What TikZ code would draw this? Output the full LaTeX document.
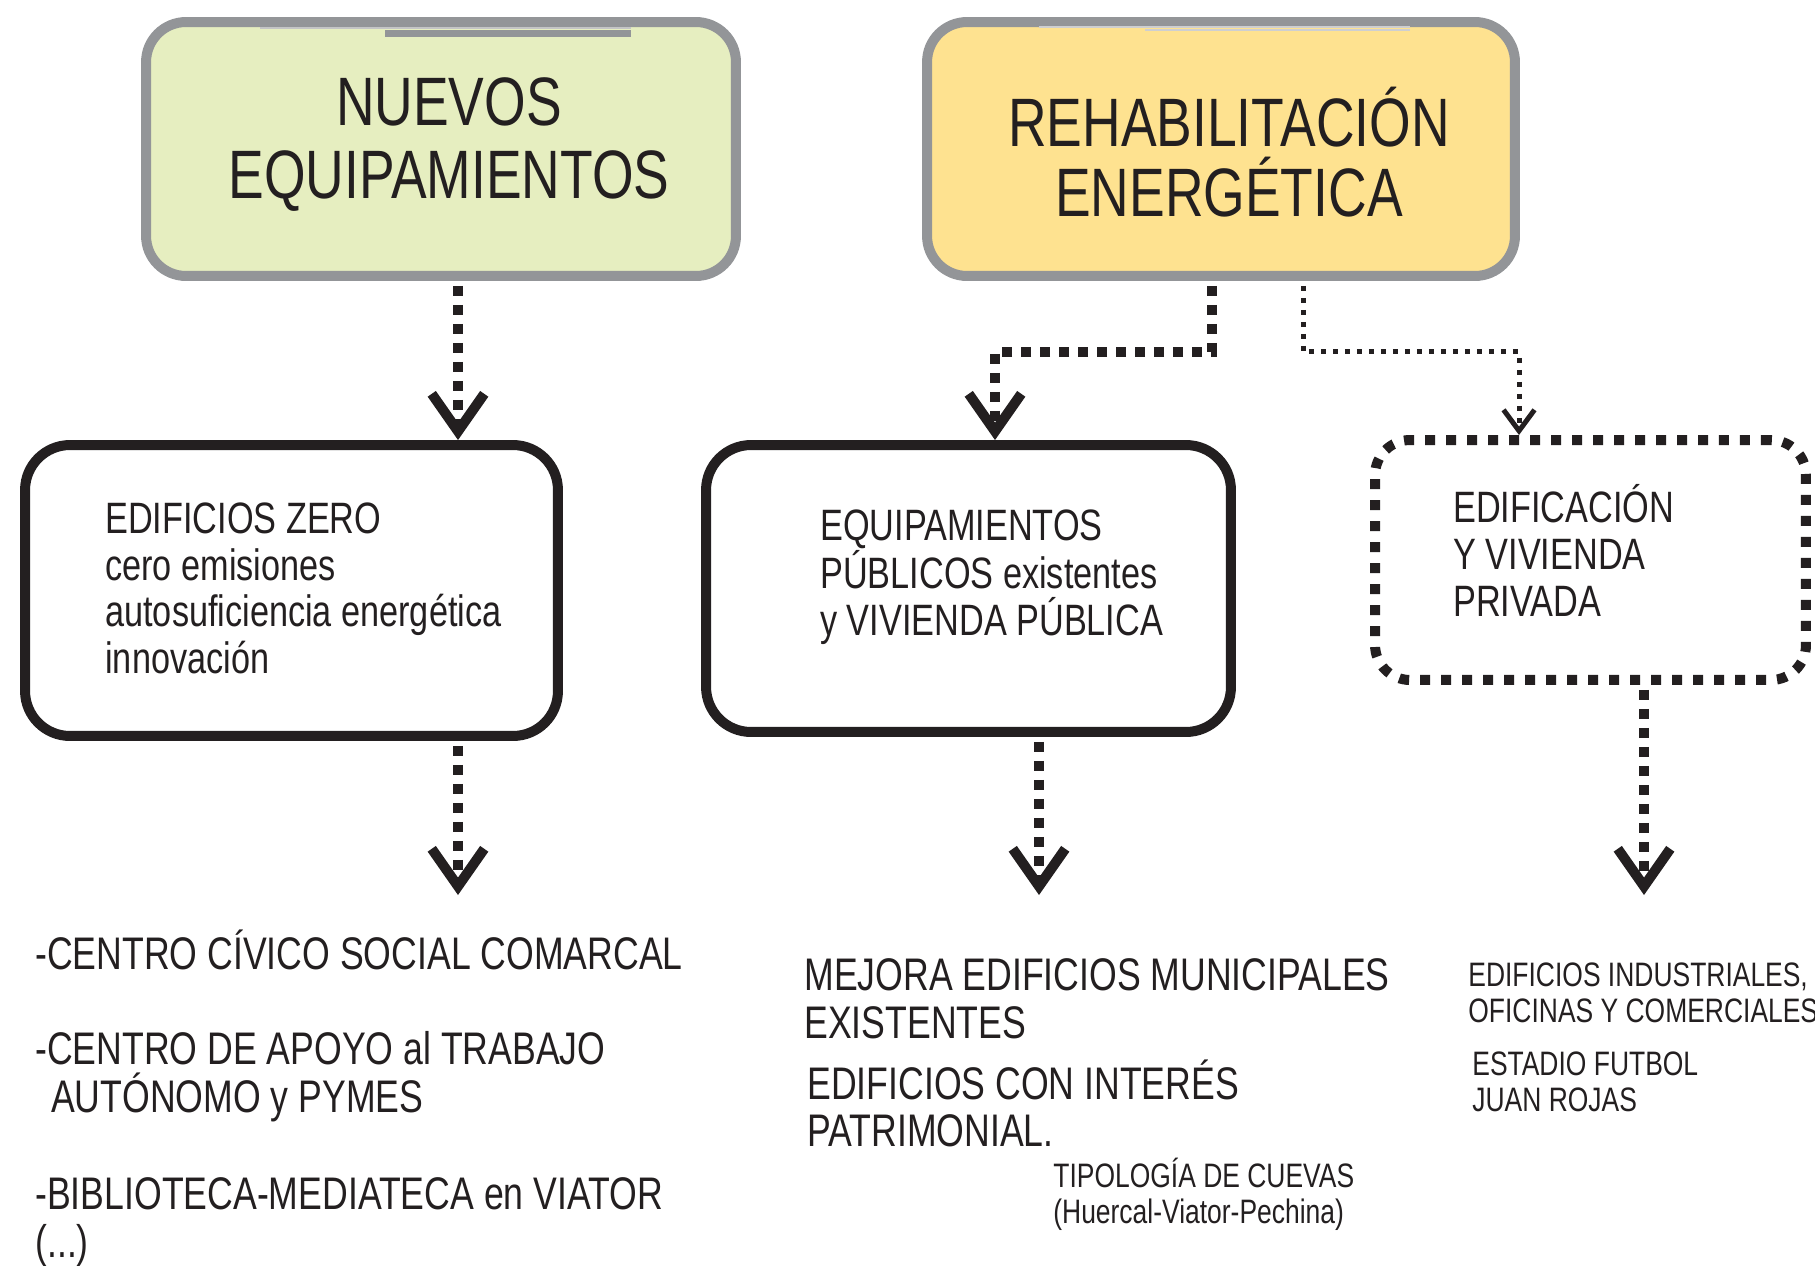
\documentclass[tikz,border=0pt]{standalone}
\usepackage{fontspec}
\setmainfont{Liberation Sans}[FakeStretch=0.78]
\usepackage{tikz}
\usetikzlibrary{calc,arrows.meta}
\definecolor{verdeclaro}{RGB}{230,238,192}
\definecolor{amarillo}{RGB}{254,226,144}
\definecolor{grisborde}{RGB}{147,149,152}
\definecolor{tinta}{RGB}{35,31,32}

\begin{document}
\begin{tikzpicture}
[x=0.02cm,y=-0.02cm,
 cabecera/.style={draw=grisborde,line width=0.2cm,rounded corners=0.8cm,inner sep=0pt},
 caja/.style={draw=tinta,line width=0.2cm,rounded corners=0.9cm,inner sep=0pt},
 punteada/.style={draw=tinta,line width=0.2cm,dash pattern=on 0.2cm off 0.22cm,rounded corners=0.7cm,inner sep=0pt},
 punta/.style={-{Straight Barb[length=0.75cm,width=1.05cm,line cap=butt,line join=miter]}},
 flecha/.style={draw=tinta,line width=0.2cm,dash pattern=on 0.2cm off 0.18cm,punta},
 flechita/.style={draw=tinta,line width=0.1cm,dash pattern=on 0.1cm off 0.14cm,
   -{Straight Barb[length=0.42cm,width=0.62cm,line cap=butt,line join=miter]}},
 titulo/.style={font=\fontsize{39}{41}\selectfont,align=center,anchor=base,inner sep=0pt,text=tinta},
 texto/.style={font=\fontsize{25}{26.4}\selectfont,align=left,anchor=base west,inner sep=0pt,text=tinta},
 lista/.style={font=\fontsize{26}{27}\selectfont,align=left,anchor=base west,inner sep=0pt,text=tinta},
 nota/.style={font=\fontsize{19.3}{20.2}\selectfont,align=left,anchor=base west,inner sep=0pt,text=tinta}]

\useasboundingbox (0,0) rectangle (1815,1265);

% the boxes
\node[cabecera,fill=verdeclaro,minimum width=11.8cm,minimum height=5.08cm] (nuevos) at (441,149) {};
\node[cabecera,fill=amarillo,minimum width=11.76cm,minimum height=5.08cm] (rehab) at (1221,149) {};
\node[caja,minimum width=10.66cm,minimum height=5.82cm] (zero) at (291.5,590.5) {};
\node[caja,minimum width=10.5cm,minimum height=5.74cm] (publicos) at (968.5,588.5) {};
\node[punteada,minimum width=8.62cm,minimum height=4.8cm] (privada) at (1590.5,560) {};

% the little grey lines on top
\draw[grisborde!55,line width=0.04cm] (260,28) -- (631,28);
\draw[grisborde,line width=0.14cm] (385,33) -- (631,33);
\draw[grisborde!45,line width=0.04cm] (1039,27) -- (1410,27);
\draw[grisborde!45,line width=0.03cm] (1145,30) -- (1410,30);

% the free ends
\coordinate (finzero) at (458,895);
\coordinate (finpublicos) at (1039,895);
\coordinate (finprivada) at (1644,895);

% the connectors
\coordinate (n1) at ($(nuevos.south)+(17,0)$);
\draw[flecha,shorten <=0.1cm] (n1) -- (n1 |- zero.north);
\coordinate (r1) at ($(rehab.south)+(-9,0)$);
\coordinate (p1) at ($(publicos.north)+(26.5,0)$);
\draw[flecha,shorten <=0.1cm] (r1) -- ++(0,71) -| (p1);
\coordinate (r2) at ($(rehab.south)+(82,0)$);
\coordinate (p2) at ($(privada.north)+(-71.5,0)$);
\draw[flechita,shorten <=0.1cm] (r2) -- ++(0,71) -| (p2);
\draw[flecha,shorten <=0.1cm] (zero.south -| finzero) -- (finzero);
\draw[flecha,shorten <=0.1cm] (publicos.south -| finpublicos) -- (finpublicos);
\draw[flecha,shorten <=0.1cm] (privada.south -| finprivada) -- (finprivada);

% the titles (placed at the last baseline)
\node[titulo] (tnuevos) at (449,198) {NUEVOS\\EQUIPAMIENTOS};
\node[titulo,font=\fontsize{39}{39.8}\selectfont] (trehab) at (1229,216) {REHABILITACIÓN\\ENERGÉTICA};

% the texts in the boxes
\node[texto] (tzero) at (105,673) {EDIFICIOS ZERO\\cero emisiones\\autosuficiencia energética\\innovación};
\node[texto] (tpublicos) at (820,635) {EQUIPAMIENTOS\\PÚBLICOS existentes\\y VIVIENDA PÚBLICA};
\node[texto,font=\fontsize{25}{26.7}\selectfont] (tprivada) at (1453,616) {EDIFICACIÓN\\Y VIVIENDA\\PRIVADA};

% the lists below
\node[lista] (civico) at (35,969) {-CENTRO CÍVICO SOCIAL COMARCAL};
\node[lista] (apoyo) at (35,1112) {-CENTRO DE APOYO al TRABAJO\\\hspace*{9pt}AUTÓNOMO y PYMES};
\node[lista] (biblio) at (35,1257) {-BIBLIOTECA-MEDIATECA en VIATOR\\(...)};
\node[lista,font=\fontsize{26}{27.3}\selectfont] (mejora) at (804,1038) {MEJORA EDIFICIOS MUNICIPALES\\EXISTENTES};
\node[lista,font=\fontsize{26}{26.2}\selectfont] (patrimonial) at (807,1146) {EDIFICIOS CON INTERÉS\\PATRIMONIAL.};
\node[nota] (cuevas) at (1053,1223) {TIPOLOGÍA DE CUEVAS\\(Huercal-Viator-Pechina)};
\node[nota] (industriales) at (1468,1022) {EDIFICIOS INDUSTRIALES,\\OFICINAS Y COMERCIALES};
\node[nota,font=\fontsize{19.3}{20.5}\selectfont] (estadio) at (1472,1111) {ESTADIO FUTBOL\\JUAN ROJAS};

\end{tikzpicture}
\end{document}
